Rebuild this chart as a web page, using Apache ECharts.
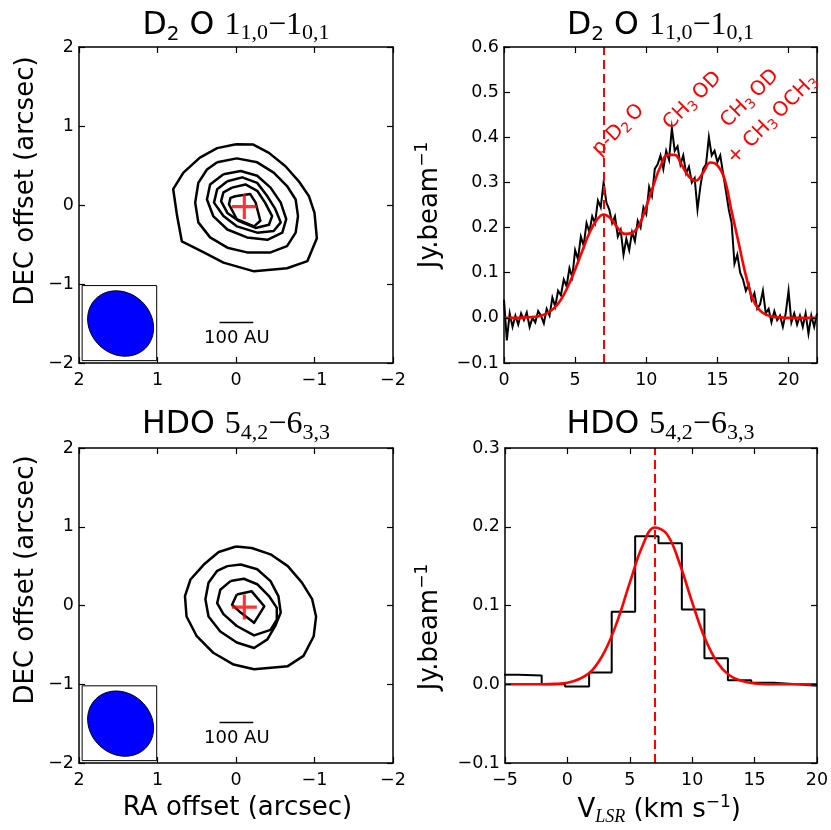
<!DOCTYPE html>
<html><head><meta charset="utf-8">
<script src="https://cdn.jsdelivr.net/npm/echarts@6/dist/echarts.min.js"></script>
<style>html,body{margin:0;padding:0;background:#fff}#c{width:831px;height:830px}</style>
</head><body><div id="c"></div><script>
// ---------------- DATA ----------------
// Map axes (arcsec) and tick labels
const mapRange = [-2, 2];
const mapTicks = [-2, -1, 0, 1, 2];
// Spectral axes
const d2oVelRange = [0, 22];
const d2oVelTicks = [0, 5, 10, 15, 20];
const d2oFluxRange = [-0.1, 0.6];
const d2oFluxTicks = [-0.1, 0.0, 0.1, 0.2, 0.3, 0.4, 0.5, 0.6];
const hdoVelRange = [-5, 20];
const hdoVelTicks = [-5, 0, 5, 10, 15, 20];
const hdoFluxRange = [-0.1, 0.3];
const hdoFluxTicks = [-0.1, 0.0, 0.1, 0.2, 0.3];

// D2O 1(1,0)-1(0,1) integrated map contours [RA offset, DEC offset], outer -> inner
const d2oContour1 = [[0,0.77],[-0.22,0.765],[-0.42,0.66],[-0.63,0.49],[-0.80,0.30],[-0.93,0.11],[-1.0,-0.10],[-1.03,-0.42],[-0.91,-0.71],[-0.65,-0.80],[-0.23,-0.84],[0.16,-0.73],[0.41,-0.60],[0.69,-0.46],[0.75,-0.14],[0.80,0.20],[0.67,0.41],[0.46,0.60],[0.24,0.72]];
const d2oContour2 = [[0.24,0.54],[-0.01,0.59],[-0.27,0.54],[-0.48,0.41],[-0.65,0.24],[-0.76,0.07],[-0.79,-0.14],[-0.76,-0.35],[-0.65,-0.52],[-0.44,-0.60],[-0.14,-0.60],[0.11,-0.54],[0.33,-0.41],[0.48,-0.22],[0.52,0.03],[0.48,0.28],[0.37,0.45]];
const d2oContour3 = [[0.16,0.39],[-0.06,0.43],[-0.27,0.37],[-0.44,0.22],[-0.57,0.03],[-0.64,-0.18],[-0.59,-0.35],[-0.40,-0.44],[-0.14,-0.41],[0.11,-0.31],[0.29,-0.14],[0.37,0.07],[0.33,0.26]];
const d2oContour4 = [[0.11,0.30],[-0.08,0.35],[-0.27,0.28],[-0.40,0.11],[-0.50,-0.05],[-0.57,-0.22],[-0.48,-0.33],[-0.27,-0.35],[-0.01,-0.27],[0.16,-0.14],[0.28,0.03],[0.24,0.20]];
const d2oContour5 = [[0.05,0.22],[-0.12,0.26],[-0.27,0.18],[-0.37,0.03],[-0.46,-0.14],[-0.42,-0.25],[-0.25,-0.29],[-0.03,-0.20],[0.11,-0.10],[0.19,0.05],[0.16,0.16]];
const d2oContour6 = [[0.01,0.11],[-0.18,0.14],[-0.25,0.03],[-0.31,-0.20],[-0.23,-0.27],[-0.01,-0.18],[0.09,0.01],[0.07,0.09]];

// HDO 5(4,2)-6(3,3) integrated map contours
const hdoContour1 = [[0,0.75],[-0.20,0.73],[-0.44,0.65],[-0.66,0.50],[-0.84,0.29],[-0.97,0.08],[-1.02,-0.14],[-0.99,-0.39],[-0.86,-0.64],[-0.66,-0.77],[-0.23,-0.81],[0.03,-0.75],[0.29,-0.60],[0.50,-0.39],[0.63,-0.14],[0.65,0.12],[0.58,0.33],[0.41,0.52],[0.22,0.68]];
const hdoContour2 = [[0.11,0.50],[-0.06,0.52],[-0.27,0.46],[-0.44,0.31],[-0.54,0.12],[-0.57,-0.09],[-0.50,-0.26],[-0.40,-0.43],[-0.23,-0.54],[-0.01,-0.47],[0.20,-0.33],[0.35,-0.14],[0.39,0.08],[0.35,0.29],[0.24,0.44]];
const hdoContour3 = [[0.07,0.31],[-0.10,0.34],[-0.27,0.27],[-0.42,0.12],[-0.52,-0.03],[-0.52,-0.18],[-0.44,-0.31],[-0.23,-0.38],[-0.01,-0.26],[0.16,-0.11],[0.24,0.03],[0.20,0.20]];
const hdoContour4 = [[-0.01,0.14],[-0.20,0.18],[-0.36,-0.01],[-0.23,-0.22],[-0.06,-0.09],[0.05,0.01]];

// Continuum peak position
const peakPosition = [-0.106, -0.02];
// Synthesized beam: [RA centre, DEC centre, semi-major, semi-minor (arcsec), PA (deg E of N)]
const beamParams = [1.47, -1.50, 0.445, 0.387, 48];

// D2O spectrum (km/s, Jy/beam)
const d2oVel = [0.0,0.2,0.4,0.6,0.8,1.0,1.2,1.4,1.6,1.8,2.0,2.2,2.4,2.6,2.8,3.0,3.2,3.4,3.6,3.8,4.0,4.2,4.4,4.6,4.8,5.0,5.2,5.4,5.6,5.8,6.0,6.2,6.4,6.6,6.8,7.0,7.2,7.4,7.6,7.8,8.0,8.2,8.4,8.6,8.8,9.0,9.2,9.4,9.6,9.8,10.0,10.2,10.4,10.6,10.8,11.0,11.2,11.4,11.6,11.8,12.0,12.2,12.4,12.6,12.8,13.0,13.2,13.4,13.6,13.8,14.0,14.2,14.4,14.6,14.8,15.0,15.2,15.4,15.6,15.8,16.0,16.2,16.4,16.6,16.8,17.0,17.2,17.4,17.6,17.8,18.0,18.2,18.4,18.6,18.8,19.0,19.2,19.4,19.6,19.8,20.0,20.2,20.4,20.6,20.8,21.0,21.2,21.4,21.6,21.8,22.0];
const d2oFlux = [0.04,-0.05,0.01,-0.02,0.005,-0.015,0.01,-0.005,0.012,-0.02,0.0,-0.01,0.015,0.005,-0.012,0.02,0.005,0.045,0.025,0.06,0.05,0.085,0.07,0.11,0.09,0.15,0.13,0.18,0.16,0.21,0.19,0.225,0.21,0.26,0.245,0.30,0.255,0.24,0.21,0.225,0.18,0.195,0.14,0.175,0.15,0.19,0.17,0.215,0.20,0.245,0.23,0.29,0.27,0.33,0.34,0.36,0.33,0.37,0.35,0.42,0.37,0.38,0.34,0.36,0.32,0.335,0.30,0.31,0.24,0.29,0.33,0.34,0.40,0.36,0.37,0.345,0.36,0.32,0.28,0.24,0.21,0.12,0.14,0.10,0.085,0.06,0.075,0.04,0.055,0.02,0.03,0.06,0.01,0.02,-0.01,0.015,-0.005,0.005,-0.02,0.01,0.06,-0.01,0.01,-0.015,0.005,-0.02,0.01,-0.035,0.005,-0.02,0.01];
// D2O multi-component fit
const d2oModelVel = [0,0.5,1,1.5,2,2.5,3,3.5,4,4.5,5,5.5,6,6.5,7,7.5,8,8.5,9,9.5,10,10.5,11,11.5,12,12.5,13,13.5,14,14.5,15,15.5,16,16.5,17,17.5,18,18.5,19,19.5,20,20.5,21,21.5,22];
const d2oModelFlux = [0,0,0,0.001,0.002,0.004,0.010,0.021,0.040,0.070,0.107,0.148,0.188,0.216,0.229,0.220,0.199,0.186,0.188,0.206,0.246,0.293,0.336,0.361,0.361,0.338,0.313,0.304,0.322,0.344,0.338,0.308,0.236,0.165,0.094,0.040,0.016,0.006,0.002,0.001,0,0,0,0,0];

// HDO spectrum: channel left edges (km/s) and flux (Jy/beam)
const hdoBinStart = [-5.8,-3.93,-2.06,-0.19,1.74,3.55,5.43,7.30,9.17,10.98,12.86,14.73,16.52,18.39,20.0];
const hdoFlux = [0.012,0.011,0.0,-0.003,0.015,0.092,0.188,0.179,0.095,0.033,0.005,0.002,0.0,-0.002,-0.002];
// HDO Gaussian fit
const hdoModelVel = [-5,-4,-3,-2,-1,0,1,2,3,4,5,6,7,8,9,10,11,12,13,14,15,16,17,18,19,20];
const hdoModelFlux = [0,0,0,0,0.0005,0.002,0.007,0.018,0.042,0.080,0.129,0.175,0.199,0.190,0.153,0.104,0.059,0.028,0.011,0.004,0.001,0,0,0,0,0];

// Systemic / line velocity
const lineVelocity = 7.0;
// Line identifications in D2O panel
const annotationTexts = ['{n|p-D}{s|2}{n|\u2009O}', '{n|CH}{s|3}{n|\u2009OD}', '{n|CH}{s|3}{n|\u2009OD}', '{n|+ CH}{s|3}{n|\u2009OCH}{s|3}'];

// ---------------- LAYOUT ----------------
const FONT = 'DejaVu Sans';
const SERIF = 'Liberation Serif';
const RED = '#ff0000';
const annotationAnchors = [[8.03, 0.416], [13.25, 0.481], [17.29, 0.486], [18.86, 0.440]];
const beamBox = [1.01, 1.96, -1.97, -1.02];
const scaleBar = {ra1: 0.21, ra2: -0.22, dec: -1.487, textRa: -0.01, textDec: -1.69};
const CROSS = 'path://M10.5,0H13.5V10.5H24V13.5H13.5V24H10.5V13.5H0V10.5H10.5Z';

function minus(s) { return String(s).replace('-', '\u2212'); }
function near(list, v) { return list.some(t => Math.abs(t - v) < 1e-6); }

function axes(gridIndex, dim, range, ticks, inverse, fmt) {
  const base = {
    type: 'value', gridIndex, min: range[0], max: range[1],
    interval: Math.round((ticks[1] - ticks[0]) * 1000) / 1000, inverse: !!inverse,
    axisLine: {show: true, onZero: false, lineStyle: {color: '#000', width: 1.5}},
    axisTick: {show: true, inside: true, length: 6, lineStyle: {color: '#000', width: 1.2}},
    splitLine: {show: false}, z: 5
  };
  const main = Object.assign({}, base, {
    position: dim === 'x' ? 'bottom' : 'left',
    axisLabel: {show: true, margin: dim === 'x' ? 8 : 5, color: '#000', fontFamily: FONT, fontSize: 17.5,
      showMinLabel: true, showMaxLabel: true,
      formatter: v => near(ticks, v) ? minus(fmt(v)) : ''}
  });
  const twin = Object.assign({}, base, {position: dim === 'x' ? 'top' : 'right', axisLabel: {show: false}});
  return [main, twin];
}
const intFmt = v => String(Math.round(v));
const decFmt = v => (Math.abs(v) < 1e-9 ? 0 : v).toFixed(1);

const xAxis = [].concat(
  axes(0, 'x', mapRange, mapTicks, true, intFmt),
  axes(1, 'x', d2oVelRange, d2oVelTicks, false, intFmt),
  axes(2, 'x', mapRange, mapTicks, true, intFmt),
  axes(3, 'x', hdoVelRange, hdoVelTicks, false, intFmt)
);
const yAxis = [].concat(
  axes(0, 'y', mapRange, mapTicks, false, intFmt),
  axes(1, 'y', d2oFluxRange, d2oFluxTicks, false, decFmt),
  axes(2, 'y', mapRange, mapTicks, false, intFmt),
  axes(3, 'y', hdoFluxRange, hdoFluxTicks, false, decFmt)
);

function closed(c) { return c.concat([c[0]]); }
function contour(g, c) {
  return {type: 'line', xAxisIndex: 2 * g, yAxisIndex: 2 * g, data: closed(c), symbol: 'none',
    lineStyle: {color: '#000', width: 2.5, join: 'round'}, silent: true, z: 3};
}
function cross(g) {
  return {type: 'scatter', xAxisIndex: 2 * g, yAxisIndex: 2 * g, data: [peakPosition], symbol: CROSS,
    symbolSize: 25, itemStyle: {color: RED}, silent: true, z: 6};
}
function beamOverlay(g) {
  return {type: 'custom', xAxisIndex: 2 * g, yAxisIndex: 2 * g, data: [[0, 0]], silent: true, z: 4,
    renderItem: (params, api) => {
      const [ra0, dec0, a, b, pa] = beamParams;
      const th = pa * Math.PI / 180;
      const pts = [];
      for (let i = 0; i < 90; i++) {
        const t = i / 90 * 2 * Math.PI;
        const ea = a * Math.cos(t), eb = b * Math.sin(t);
        pts.push(api.coord([ra0 + ea * Math.sin(th) + eb * Math.cos(th), dec0 + ea * Math.cos(th) - eb * Math.sin(th)]));
      }
      const c1 = api.coord([beamBox[1], beamBox[3]]);
      const c2 = api.coord([beamBox[0], beamBox[2]]);
      const s1 = api.coord([scaleBar.ra1, scaleBar.dec]);
      const s2 = api.coord([scaleBar.ra2, scaleBar.dec]);
      const tp = api.coord([scaleBar.textRa, scaleBar.textDec]);
      return {type: 'group', children: [
        {type: 'rect', shape: {x: Math.min(c1[0], c2[0]), y: Math.min(c1[1], c2[1]), width: Math.abs(c2[0] - c1[0]), height: Math.abs(c2[1] - c1[1])},
          style: {fill: '#fff', stroke: '#000', lineWidth: 1}},
        {type: 'polygon', shape: {points: pts}, style: {fill: '#0000ff', stroke: '#000', lineWidth: 1}},
        {type: 'line', shape: {x1: s1[0], y1: s1[1], x2: s2[0], y2: s2[1]}, style: {stroke: '#000', lineWidth: 1.5}},
        {type: 'text', x: tp[0], y: tp[1], style: {text: '100 AU', fill: '#000', fontFamily: FONT, fontSize: 18, align: 'center', verticalAlign: 'middle'}}
      ]};
    }};
}
function vline(g) {
  return {type: 'line', xAxisIndex: 2 * g, yAxisIndex: 2 * g, data: [], symbol: 'none',
    markLine: {silent: true, symbol: ['none', 'none'], label: {show: false},
      lineStyle: {color: RED, width: 2, type: [9, 5]}, data: [{xAxis: lineVelocity}], animation: false}, z: 7};
}

const annRich = {
  n: {fontFamily: FONT, fontSize: 20, lineHeight: 24, fill: RED},
  s: {fontFamily: FONT, fontSize: 14, lineHeight: 11, verticalAlign: 'bottom', fill: RED}
};

const series = [];
[d2oContour1, d2oContour2, d2oContour3, d2oContour4, d2oContour5, d2oContour6].forEach(c => series.push(contour(0, c)));
series.push(cross(0), beamOverlay(0));
series.push({type: 'line', xAxisIndex: 2, yAxisIndex: 2, data: d2oVel.map((v, i) => [v, d2oFlux[i]]), symbol: 'none',
  lineStyle: {color: '#000', width: 2, join: 'miter'}, silent: true, z: 3});
series.push({type: 'line', xAxisIndex: 2, yAxisIndex: 2, data: d2oModelVel.map((v, i) => [v, d2oModelFlux[i]]), symbol: 'none', smooth: 0.4,
  lineStyle: {color: RED, width: 2.6}, silent: true, z: 4});
series.push(vline(1));
series.push({type: 'custom', xAxisIndex: 2, yAxisIndex: 2, data: annotationAnchors, silent: true, z: 8,
  renderItem: (params, api) => {
    const p = api.coord([api.value(0), api.value(1)]);
    return {type: 'text', x: p[0], y: p[1], rotation: Math.PI / 4,
      style: {text: annotationTexts[params.dataIndex], rich: annRich, fill: RED, fontFamily: FONT, fontSize: 20, align: 'center', verticalAlign: 'middle'}};
  }});
[hdoContour1, hdoContour2, hdoContour3, hdoContour4].forEach(c => series.push(contour(2, c)));
series.push(cross(2), beamOverlay(2));
series.push({type: 'line', xAxisIndex: 6, yAxisIndex: 6, data: hdoBinStart.map((v, i) => [v, hdoFlux[i]]), symbol: 'none', step: 'end',
  lineStyle: {color: '#000', width: 2}, silent: true, z: 3});
series.push({type: 'line', xAxisIndex: 6, yAxisIndex: 6, data: hdoModelVel.map((v, i) => [v, hdoModelFlux[i]]), symbol: 'none', smooth: 0.4,
  lineStyle: {color: RED, width: 2.6}, silent: true, z: 4});
series.push(vline(3));

const titleRich = {
  s: {fontFamily: FONT, fontSize: 31.5, lineHeight: 38, fill: '#000'},
  ss: {fontFamily: FONT, fontSize: 20, lineHeight: 16, verticalAlign: 'bottom', fill: '#000'},
  m: {fontFamily: SERIF, fontSize: 32, lineHeight: 38, fill: '#000'},
  ms: {fontFamily: SERIF, fontSize: 22, lineHeight: 17, verticalAlign: 'bottom', fill: '#000'}
};
const labelRich = {
  s: {fontFamily: FONT, fontSize: 26, lineHeight: 32, fill: '#000'},
  sup: {fontFamily: FONT, fontSize: 17, lineHeight: 20, verticalAlign: 'top', fill: '#000'},
  i: {fontFamily: SERIF, fontStyle: 'italic', fontSize: 18, lineHeight: 10, verticalAlign: 'bottom', fill: '#000'}
};
const d2oTitle = '{s|D}{ss|2}{s| O }{m|1}{ms|1,0}{m|\u22121}{ms|0,1}';
const hdoTitle = '{s|HDO }{m|5}{ms|4,2}{m|\u22126}{ms|3,3}';
function txt(x, y, text, rich, rot) {
  return {type: 'text', x, y, rotation: rot || 0, silent: true, z: 10,
    style: {text, rich, fill: '#000', fontFamily: FONT, fontSize: 26, align: 'center', verticalAlign: 'middle'}};
}
const graphic = [
  txt(236, 25.5, d2oTitle, titleRich),
  txt(660.5, 25.5, d2oTitle, titleRich),
  txt(236, 425, hdoTitle, titleRich),
  txt(660.5, 425, hdoTitle, titleRich),
  txt(26.4, 181, '{s|DEC offset (arcsec)}', labelRich, Math.PI / 2),
  txt(26.4, 580, '{s|DEC offset (arcsec)}', labelRich, Math.PI / 2),
  txt(430.4, 205, '{s|Jy.beam}{sup|\u22121}', labelRich, Math.PI / 2),
  txt(430.4, 627, '{s|Jy.beam}{sup|\u22121}', labelRich, Math.PI / 2),
  txt(237.5, 808.4, '{s|RA offset (arcsec)}', labelRich),
  txt(659.2, 810.5, '{s|V}{i|LSR}{s| (km s}{sup|\u22121}{s|)}', labelRich)
];

const chart = echarts.init(document.getElementById('c'), null, {renderer: 'canvas'});
chart.setOption({
  animation: false,
  backgroundColor: '#fff',
  textStyle: {fontFamily: FONT},
  grid: [
    {left: 79, top: 47, width: 314, height: 316, outerBoundsMode: 'none'},
    {left: 504, top: 47, width: 313, height: 316, outerBoundsMode: 'none'},
    {left: 79, top: 448, width: 314, height: 315, outerBoundsMode: 'none'},
    {left: 505, top: 448, width: 312, height: 315, outerBoundsMode: 'none'}
  ],
  xAxis, yAxis, series, graphic
});
</script></body></html>
